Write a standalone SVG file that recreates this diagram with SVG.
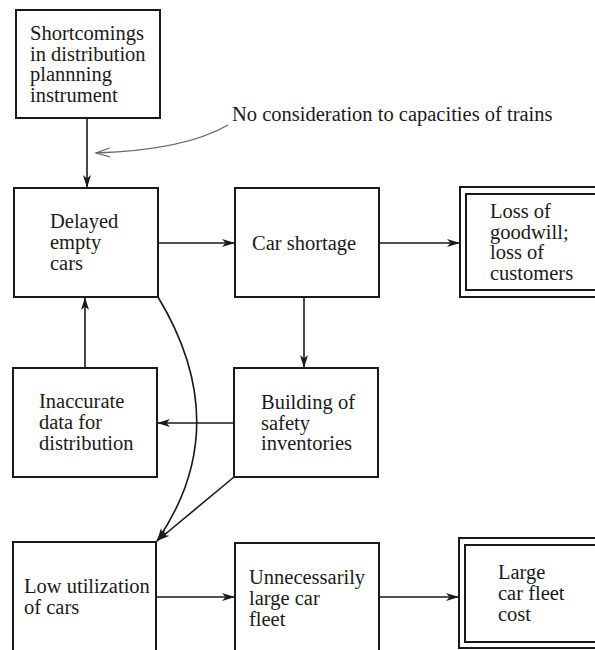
<svg xmlns="http://www.w3.org/2000/svg" width="595" height="650" viewBox="0 0 595 650">
<defs>
<style>
.box{fill:#fff;stroke:#1a1a1a;stroke-width:2}
.t{font-family:"Liberation Serif","Times New Roman",serif;font-size:20.5px;fill:#1a1a1a}
.c{fill:none;stroke:#1a1a1a;stroke-width:1.6}
.note{fill:none;stroke:#666;stroke-width:1.3}
</style>
<marker id="ah" markerUnits="userSpaceOnUse" markerWidth="14" markerHeight="10" refX="13" refY="4.5" orient="auto">
<path d="M0,0.5 L13,4.5 L0,8.5 L3.5,4.5 z" fill="#1a1a1a"/>
</marker>
<marker id="ao" markerUnits="userSpaceOnUse" markerWidth="16" markerHeight="12" refX="14" refY="5" orient="auto">
<path d="M0,0.5 L14,5 L0,9.5" fill="none" stroke="#666" stroke-width="1.2"/>
</marker>
</defs>
<rect width="595" height="650" fill="#fff"/>

<g id="connectors">
<line class="c" x1="87" y1="118" x2="87" y2="188" marker-end="url(#ah)"/>
<path class="note" d="M228,125 Q185,150 96,153" marker-end="url(#ao)"/>
<line class="c" x1="158" y1="243" x2="235" y2="243" marker-end="url(#ah)"/>
<line class="c" x1="379" y1="243" x2="460" y2="243" marker-end="url(#ah)"/>
<line class="c" x1="304" y1="297" x2="304" y2="368" marker-end="url(#ah)"/>
<line class="c" x1="234" y1="423" x2="157" y2="423" marker-end="url(#ah)"/>
<line class="c" x1="85" y1="368" x2="85" y2="297" marker-end="url(#ah)"/>
<path class="c" d="M158,297 Q236,426 157,541" marker-end="url(#ah)"/>
<line class="c" x1="234" y1="477" x2="157" y2="541" marker-end="url(#ah)"/>
<line class="c" x1="156" y1="597" x2="235" y2="597" marker-end="url(#ah)"/>
<line class="c" x1="379" y1="597" x2="459" y2="597" marker-end="url(#ah)"/>
</g>

<g id="note">
<text class="t" x="232" y="121">No consideration to capacities of trains</text>
</g>

<g id="shortcomings">
<rect class="box" x="16" y="10" width="144" height="108"/>
<text class="t" x="30" y="40">Shortcomings</text>
<text class="t" x="30" y="61">in distribution</text>
<text class="t" x="30" y="81">plannning</text>
<text class="t" x="30" y="102">instrument</text>
</g>

<g id="delayed">
<rect class="box" x="14" y="188" width="144" height="109"/>
<text class="t" x="50" y="228">Delayed</text>
<text class="t" x="50" y="249">empty</text>
<text class="t" x="50" y="270">cars</text>
</g>

<g id="shortage">
<rect class="box" x="235" y="188" width="144" height="109"/>
<text class="t" x="252" y="250">Car shortage</text>
</g>

<g id="goodwill">
<rect class="box" x="460" y="187" width="150" height="110"/>
<rect class="box" x="466" y="194" width="140" height="96"/>
<text class="t" x="490" y="218">Loss of</text>
<text class="t" x="490" y="239">goodwill;</text>
<text class="t" x="490" y="259">loss of</text>
<text class="t" x="490" y="280">customers</text>
</g>

<g id="inaccurate">
<rect class="box" x="13" y="368" width="144" height="109"/>
<text class="t" x="39" y="408">Inaccurate</text>
<text class="t" x="39" y="429">data for</text>
<text class="t" x="39" y="450">distribution</text>
</g>

<g id="safety">
<rect class="box" x="234" y="368" width="144" height="109"/>
<text class="t" x="261" y="409">Building of</text>
<text class="t" x="261" y="430">safety</text>
<text class="t" x="261" y="450">inventories</text>
</g>

<g id="lowutil">
<rect class="box" x="13" y="542" width="143" height="120"/>
<text class="t" x="24" y="593">Low utilization</text>
<text class="t" x="24" y="614">of cars</text>
</g>

<g id="fleet">
<rect class="box" x="235" y="543" width="144" height="120"/>
<text class="t" x="249" y="584">Unnecessarily</text>
<text class="t" x="249" y="605">large car</text>
<text class="t" x="249" y="626">fleet</text>
</g>

<g id="cost">
<rect class="box" x="459" y="538" width="150" height="110"/>
<rect class="box" x="465" y="545" width="140" height="97"/>
<text class="t" x="498" y="579">Large</text>
<text class="t" x="498" y="600">car fleet</text>
<text class="t" x="498" y="621">cost</text>
</g>
</svg>
